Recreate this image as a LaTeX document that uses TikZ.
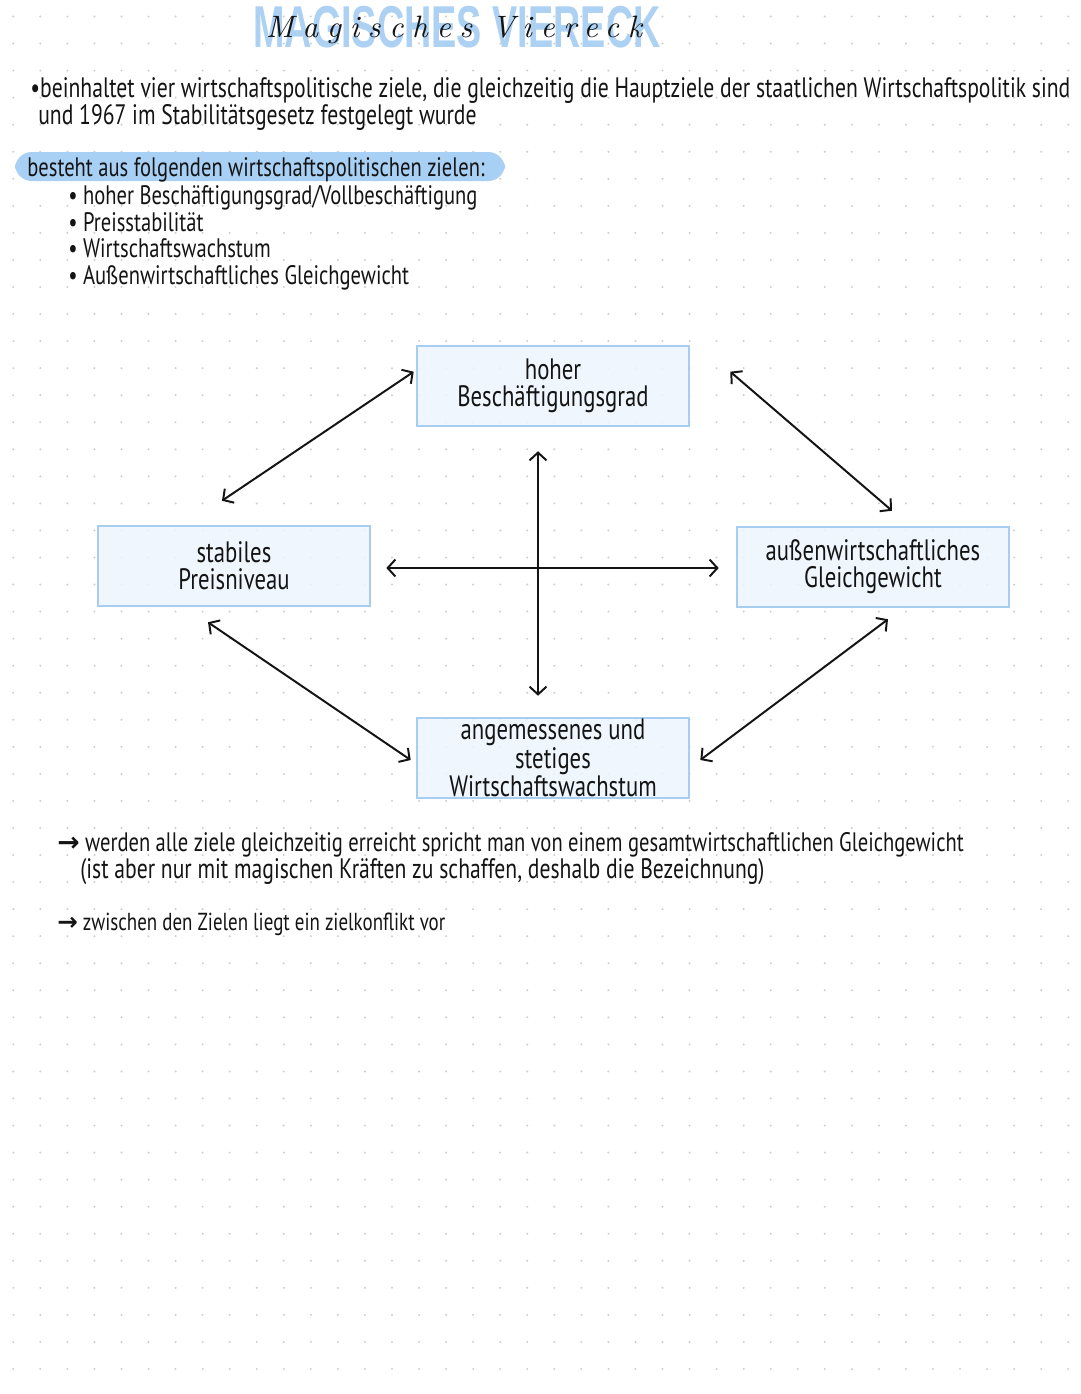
\documentclass[tikz,border=0pt]{standalone}
\usepackage{fontspec}
\usepackage{xcolor}
\usepackage{tikz}
\usetikzlibrary{calc,arrows.meta}
\newfontfamily\handfont[FakeStretch=0.77]{PT Sans}
\newfontfamily\markfont[FakeStretch=0.64]{Liberation Sans}
\newfontfamily\scrfont[LetterSpace=28]{lmroman10-italic.otf}
\newfontfamily\symfont{DejaVu Sans}
\newcommand{\goalarrow}{{\symfont\bfseries →}}
\definecolor{ink}{HTML}{141414}
\definecolor{boxfill}{HTML}{EDF5FD}
\definecolor{boxline}{HTML}{A7CDF0}
\definecolor{hilite}{HTML}{A8D0F4}
\definecolor{titleblue}{HTML}{A3CDF2}
\definecolor{dotgrey}{HTML}{CFCFCF}
\tikzset{
  hand/.style={text=ink, font=\handfont\fontsize{20}{19}\selectfont, anchor=base west, inner sep=0pt},
  listhand/.style={hand, font=\handfont\fontsize{19}{19}\selectfont},
  smallhand/.style={hand, font=\handfont\fontsize{17.5}{19}\selectfont},
  goal/.style={draw=boxline, fill=boxfill, fill opacity=0.85, text opacity=1, line width=1.8pt,
    minimum width=6.8cm, minimum height=2cm, inner xsep=4pt, inner ysep=0pt, align=center, text=ink,
    font=\handfont\fontsize{21}{19}\selectfont},
  link/.style={draw=ink, line width=1.4pt, >={Straight Barb[length=5.5pt,width=12pt]}, <->},
  griddot/.style={fill=dotgrey}
}

\begin{document}
\begin{tikzpicture}[x=0.025cm, y=-0.025cm]
  \fill[white] (0,0) rectangle (1080,1394);
  \useasboundingbox (0,0) rectangle (1080,1394);

  % dotted paper
  \foreach \i in {0,...,39}
    \foreach \j in {0,...,50}
      \fill[griddot] (13.3+27.05*\i,16.5+27.05*\j) circle (0.8pt);

  % title
  \node[text=titleblue, opacity=0.9, font=\markfont\bfseries\fontsize{42}{42}\selectfont] (tband) at (457,27) {MAGISCHES VIERECK};
  \node[text=ink, font=\scrfont\fontsize{22}{22}\selectfont] (tscript) at (454,30) {Magisches Viereck};

  % notes
  \node[hand] (t1) at (30,97) {•beinhaltet vier wirtschaftspolitische ziele, die gleichzeitig die Hauptziele der staatlichen Wirtschaftspolitik sind};
  \node[hand] (t2) at (38,124) {und 1967 im Stabilitätsgesetz festgelegt wurde};
  \fill[hilite, rounded corners=12pt] (15,152) rectangle (505,181);
  \node[listhand] (t3) at (27,176) {besteht aus folgenden wirtschaftspolitischen zielen:};
  \node[listhand] (t4) at (68,204) {• hoher Beschäftigungsgrad/Vollbeschäftigung};
  \node[listhand] (t5) at (68,231) {• Preisstabilität};
  \node[listhand] (t6) at (68,257) {• Wirtschaftswachstum};
  \node[listhand] (t7) at (68,284) {• Außenwirtschaftliches Gleichgewicht};

  % the four goals
  \node[goal] (hoch) at (553,386) {hoher\\Beschäftigungsgrad};
  \node[goal] (prei) at (234,566) {stabiles\\Preisniveau};
  \node[goal] (auss) at (873,567) {außenwirtschaftliches\\Gleichgewicht};
  \node[goal] (wach) at (553,758) {angemessenes und\\stetiges\\Wirtschaftswachstum};

  \draw[link] ([shift={(-12,-24)}]prei.north) -- ([shift={(-2,27)}]hoch.north west);
  \draw[link] ([shift={(40,27)}]hoch.north east) -- ([shift={(19,-15)}]auss.north);
  \draw[link] ([shift={(-15,24)}]hoch.south) -- ([shift={(-15,-21)}]wach.north);
  \draw[link] ([shift={(15,2)}]prei.east) -- ([shift={(-17,1)}]auss.west);
  \draw[link] ([shift={(-26,15)}]prei.south) -- ([shift={(-5,2)}]wach.west);
  \draw[link] ([shift={(15,11)}]auss.south) -- ([shift={(10,2)}]wach.east);

  % conclusions
  \node[hand, font=\handfont\fontsize{19}{19}\selectfont] (t8) at (57,851) {\goalarrow\ werden alle ziele gleichzeitig erreicht spricht man von einem gesamtwirtschaftlichen Gleichgewicht};
  \node[hand] (t9) at (80,878) {(ist aber nur mit magischen Kräften zu schaffen, deshalb die Bezeichnung)};
  \node[smallhand] (t10) at (57,930) {\goalarrow\ zwischen den Zielen liegt ein zielkonflikt vor};
\end{tikzpicture}
\end{document}
